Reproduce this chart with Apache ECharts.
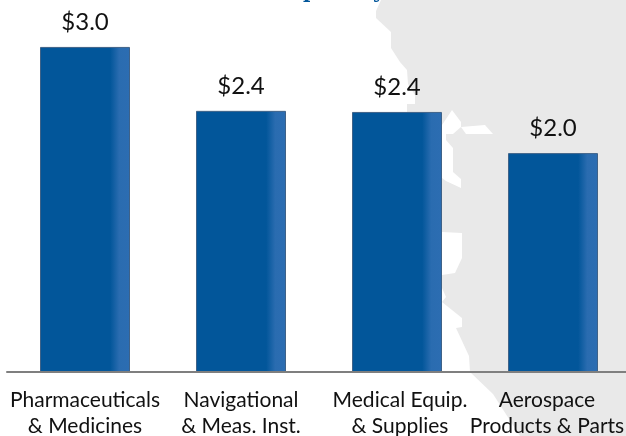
<!DOCTYPE html>
<html>
<head>
<meta charset="utf-8">
<style>
html, body { margin: 0; padding: 0; background: #fff; }
#main { width: 626px; height: 436px; overflow: hidden; }
</style>
<script src="https://cdn.jsdelivr.net/npm/echarts@6/dist/echarts.min.js"></script>
</head>
<body>
<div id="main"></div>
<script>
var categories = [
    'Pharmaceuticals\n& Medicines',
    'Navigational\n& Meas. Inst.',
    'Medical Equip.\n& Supplies',
    'Aerospace\nProducts & Parts'
];
var values = [3.0, 2.41, 2.4, 2.02];

// grey map shape behind the chart
var mapOutline = [
    [381, 0], [376, 11], [376, 18], [391, 32], [391, 48], [400, 62], [407, 70], [408, 84],
    [415, 95], [415, 104], [407, 104], [407, 112], [442, 112], [442, 125], [452, 110],
    [461, 122], [461, 127], [485, 125], [493, 134], [466, 134], [461, 127], [453, 134],
    [446, 134], [446, 140], [453, 148], [453, 172], [461, 179], [461, 188], [446, 181],
    [442, 178], [442, 232], [462, 233], [462, 258], [455, 273], [442, 275], [442, 288],
    [446, 297], [442, 302], [462, 318], [462, 327], [456, 328], [469, 356], [470, 372],
    [493, 394], [520, 436], [626, 436], [626, 0]
];

var labelStyle = { color: '#111', fontSize: 21, lineHeight: 26 };

var chart = echarts.init(document.getElementById('main'));

chart.setOption({
    animation: false,
    backgroundColor: '#fff',
    textStyle: { fontFamily: 'Lato' },
    graphic: [
        {
            type: 'polygon',
            z: -10,
            silent: true,
            shape: { points: mapOutline },
            style: { fill: '#e9e9e9' }
        },
        {
            type: 'text',
            left: 303,
            top: -17,
            style: { text: 'p', fill: '#02569a', font: 'bold 20px "DejaVu Serif"' }
        },
        {
            type: 'text',
            left: 373,
            top: -17,
            style: { text: 'y', fill: '#02569a', font: 'bold 20px "DejaVu Serif"' }
        }
    ],
    grid: { left: 7, top: 22, width: 624, height: 350, outerBoundsMode: 'none' },
    xAxis: {
        type: 'category',
        data: categories,
        z: 3,
        axisTick: { show: false },
        axisLine: { lineStyle: { color: '#7f7f7f', width: 2 } },
        axisLabel: {
            color: '#111',
            fontSize: 21,
            lineHeight: 26,
            margin: 15,
            interval: 0,
            // the labels in the picture sit a little off their bars
            formatter: function (value, index) {
                var tag = ['c', 'c', 'r', 'l'][index];
                return value.split('\n').map(function (line) {
                    return '{' + tag + '|' + line + '}';
                }).join('\n');
            },
            rich: {
                c: labelStyle,
                r: Object.assign({ padding: [0, 0, 0, 6] }, labelStyle),
                l: Object.assign({ padding: [0, 12, 0, 0] }, labelStyle)
            }
        }
    },
    yAxis: {
        type: 'value',
        min: 0,
        max: 3.23,
        show: false
    },
    series: [{
        type: 'bar',
        data: values,
        barWidth: 90,
        itemStyle: {
            borderColor: '#3f6288',
            borderWidth: 1,
            color: new echarts.graphic.LinearGradient(0, 0, 1, 0, [
                { offset: 0, color: '#02569a' },
                { offset: 0.78, color: '#02569a' },
                { offset: 0.88, color: '#2a6cb0' },
                { offset: 1, color: '#2c6db2' }
            ])
        },
        label: {
            show: true,
            position: 'top',
            distance: 13,
            color: '#111',
            fontSize: 24,
            formatter: function (p) {
                return '$' + p.value.toFixed(1);
            }
        }
    }]
});
</script>
</body>
</html>
